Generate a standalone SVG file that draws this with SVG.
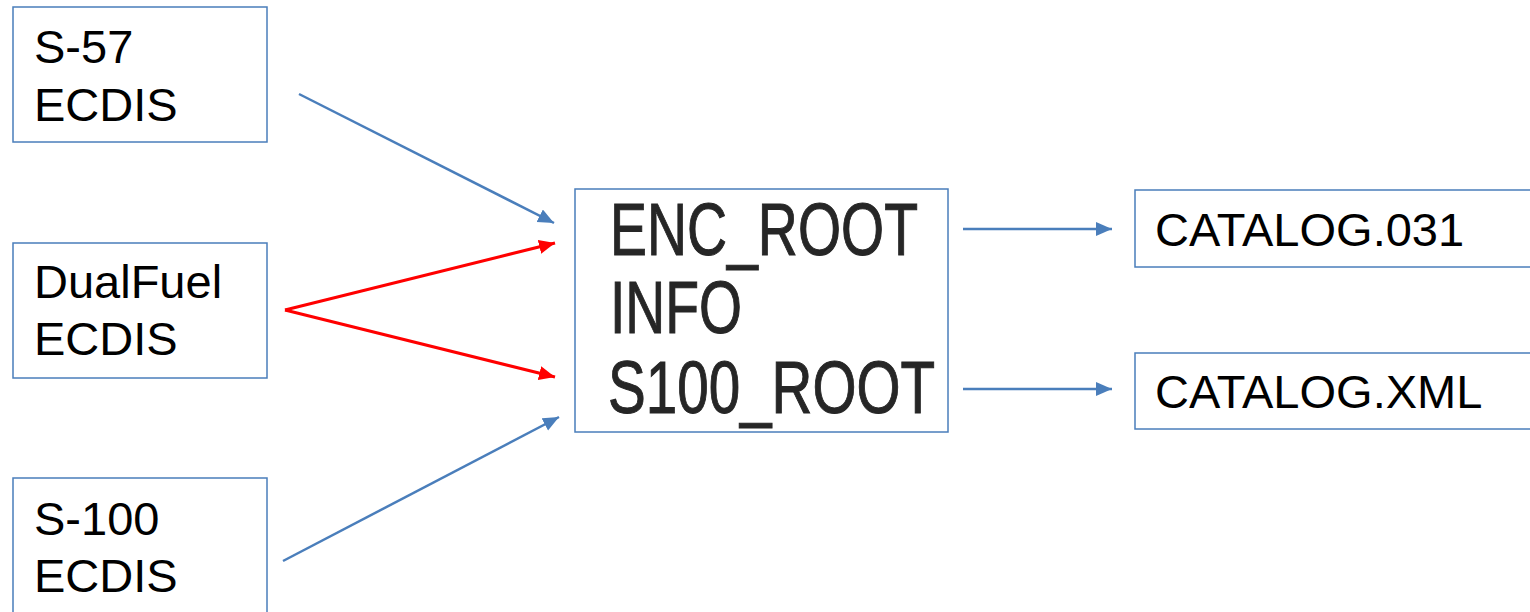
<svg xmlns="http://www.w3.org/2000/svg" width="1530" height="612" viewBox="0 0 1530 612">
<style>
.box{fill:#fff;stroke:#4A7EBB;stroke-width:1.5}
.t{font-family:"Liberation Sans",Arial,sans-serif;font-size:47px;fill:#000}
.c{font-family:"Liberation Sans",Arial,sans-serif;font-size:74px;fill:#262626;stroke:#262626;stroke-width:1}
.blue{stroke:#4A7EBB;stroke-width:2.5;fill:none}
.red{stroke:#FF0000;stroke-width:3;fill:none}
</style>
<defs>
<marker id="ab" markerUnits="userSpaceOnUse" markerWidth="20" markerHeight="20" refX="16" refY="7" orient="auto" viewBox="0 0 20 20">
<path d="M0,0 L16,7 L0,14 Z" fill="#4A7EBB"/>
</marker>
<marker id="ar" markerUnits="userSpaceOnUse" markerWidth="20" markerHeight="20" refX="16" refY="7" orient="auto" viewBox="0 0 20 20">
<path d="M0,0 L16,7 L0,14 Z" fill="#FF0000"/>
</marker>
</defs>
<rect width="1530" height="612" fill="#fff"/>
<g id="s57">
<rect class="box" x="13" y="7" width="254" height="135"/>
<text class="t" x="34" y="63">S-57</text>
<text class="t" x="34" y="121">ECDIS</text>
</g>
<g id="dualfuel">
<rect class="box" x="13" y="243" width="254" height="135"/>
<text class="t" x="34" y="298">DualFuel</text>
<text class="t" x="34" y="355">ECDIS</text>
</g>
<g id="s100">
<rect class="box" x="13" y="478" width="254" height="150"/>
<text class="t" x="34" y="535">S-100</text>
<text class="t" x="34" y="592">ECDIS</text>
</g>
<g id="center">
<rect class="box" x="575" y="189" width="373" height="243"/>
<text class="c" x="610" y="255" textLength="308" lengthAdjust="spacingAndGlyphs">ENC_ROOT</text>
<text class="c" x="610" y="333" textLength="132" lengthAdjust="spacingAndGlyphs">INFO</text>
<text class="c" x="608" y="413" textLength="327" lengthAdjust="spacingAndGlyphs">S100_ROOT</text>
</g>
<g id="catalog031">
<rect class="box" x="1135" y="190" width="410" height="77"/>
<text class="t" x="1155" y="246">CATALOG.031</text>
</g>
<g id="catalogxml">
<rect class="box" x="1135" y="353" width="410" height="76"/>
<text class="t" x="1155" y="408">CATALOG.XML</text>
</g>
<g id="connectors">
<line class="blue" x1="299" y1="94" x2="554" y2="223" marker-end="url(#ab)"/>
<line class="red" x1="285" y1="310" x2="555" y2="243" marker-end="url(#ar)"/>
<line class="red" x1="285" y1="310" x2="555" y2="377" marker-end="url(#ar)"/>
<line class="blue" x1="283" y1="561" x2="559" y2="417" marker-end="url(#ab)"/>
<line class="blue" x1="963" y1="229" x2="1112" y2="229" marker-end="url(#ab)"/>
<line class="blue" x1="963" y1="389" x2="1112" y2="389" marker-end="url(#ab)"/>
</g>
</svg>
